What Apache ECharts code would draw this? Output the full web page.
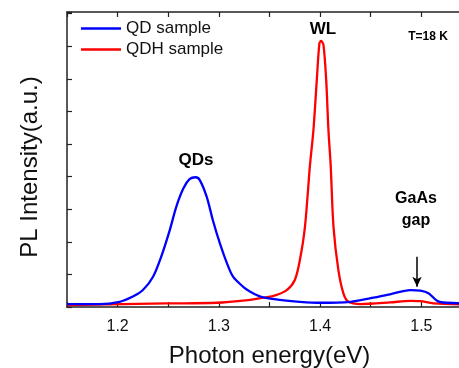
<!DOCTYPE html>
<html>
<head>
<meta charset="utf-8">
<script src="https://cdn.jsdelivr.net/npm/echarts@6/dist/echarts.min.js"></script>
<style>
  html, body { margin: 0; padding: 0; background: #fff; }
  #chart { width: 459px; height: 368px; }
</style>
</head>
<body>
<div id="chart"></div>
<script>
// QD sample (blue) — photon energy (eV) / PL intensity (a.u.)
const qdEnergy = [1.15, 1.182, 1.202, 1.215, 1.225, 1.235, 1.243, 1.2515, 1.258, 1.265, 1.271, 1.277, 1.281, 1.288, 1.294, 1.301, 1.308, 1.314, 1.324, 1.331, 1.341, 1.36, 1.38, 1.40, 1.43, 1.45, 1.469, 1.489, 1.499, 1.507, 1.516, 1.525, 1.55]
const qdIntensity = [0.09, 0.09, 0.16, 0.32, 0.52, 0.93, 1.54, 2.36, 3.08, 3.64, 3.92, 3.98, 3.90, 3.38, 2.67, 1.95, 1.34, 0.93, 0.62, 0.47, 0.32, 0.22, 0.16, 0.13, 0.16, 0.27, 0.39, 0.52, 0.50, 0.42, 0.18, 0.13, 0.11]

// QDH sample (red)
const qdhEnergy = [1.15, 1.248, 1.298, 1.331, 1.341, 1.354, 1.367, 1.375, 1.380, 1.385, 1.390, 1.3934, 1.3967, 1.3993, 1.401, 1.4033, 1.406, 1.4082, 1.4104, 1.4132, 1.418, 1.423, 1.428, 1.44, 1.469, 1.489, 1.499, 1.512, 1.55]
const qdhIntensity = [0.06, 0.11, 0.13, 0.22, 0.27, 0.34, 0.52, 0.83, 1.44, 2.46, 4.36, 5.43, 6.96, 8.09, 8.16, 8.04, 6.96, 5.43, 4.36, 2.46, 1.14, 0.42, 0.16, 0.09, 0.14, 0.19, 0.18, 0.11, 0.08]

const seriesNames = ['QD sample', 'QDH sample']
const xTickLabels = ['1.2', '1.3', '1.4', '1.5']

// GaAs gap arrow (data coords)
const arrowX = 1.4957
const arrowY = [1.54, 0.62]

const chart = echarts.init(document.getElementById('chart'))

const font = '"Liberation Sans", Arial, sans-serif'
const axisColor = '#222'

const xAxisBase = {
  type: 'value',
  min: 1.15,
  max: 1.55,
  interval: 0.05,
  axisLine: { onZero: false, lineStyle: { color: axisColor, width: 1.5 } },
  axisTick: { inside: true, length: 5, lineStyle: { color: axisColor, width: 1.2 } },
  splitLine: { show: false }
}
const yAxisBase = {
  type: 'value',
  min: 0,
  max: 9.05,
  interval: 1,
  axisLine: { show: true, onZero: false, lineStyle: { color: axisColor, width: 1.5 } },
  axisTick: { show: true, inside: true, length: 5, lineStyle: { color: axisColor, width: 1.2 } },
  axisLabel: { show: false },
  splitLine: { show: false }
}

const option = {
  animation: false,
  backgroundColor: '#fff',
  textStyle: { fontFamily: font },
  // plot box runs past the right edge of the picture (1.55 sits off-canvas)
  grid: { left: 67, top: 12, height: 295, width: 405, outerBoundsMode: 'none', containLabel: false },
  legend: {
    data: seriesNames,
    orient: 'vertical',
    left: 81,
    top: 20,
    padding: 0,
    itemGap: 4,
    itemWidth: 40,
    itemHeight: 2.5,
    icon: 'rect',
    textStyle: { fontSize: 17, color: '#111', fontFamily: font }
  },
  xAxis: [
    Object.assign({}, xAxisBase, {
      position: 'bottom',
      axisLabel: {
        fontSize: 16,
        color: '#111',
        margin: 12,
        formatter: v => {
          const s = v.toFixed(1)
          return Math.round(v * 100) % 10 === 0 && xTickLabels.includes(s) ? s : ''
        }
      },
      name: 'Photon energy(eV)',
      nameLocation: 'middle',
      nameGap: 37,
      nameTextStyle: { fontSize: 24, color: '#111', fontFamily: font }
    }),
    Object.assign({}, xAxisBase, { position: 'top', axisLabel: { show: false } })
  ],
  yAxis: [
    Object.assign({}, yAxisBase, {
      position: 'left',
      name: 'PL Intensity(a.u.)',
      nameLocation: 'middle',
      nameGap: 25,
      nameTextStyle: { fontSize: 24, color: '#111', fontFamily: font, padding: [0, 15, 0, 0] }
    }),
    Object.assign({}, yAxisBase, { position: 'right' })
  ],
  series: [
    {
      name: seriesNames[0],
      type: 'line',
      smooth: 0.3,
      symbol: 'none',
      data: qdEnergy.map((e, i) => [e, qdIntensity[i]]),
      lineStyle: { color: '#0000ff', width: 2.3 },
      itemStyle: { color: '#0000ff' },
      z: 3,
      markLine: {
        silent: true,
        symbol: ['none', 'arrow'],
        symbolSize: [7, 10],
        label: { show: false },
        lineStyle: { color: '#000', width: 1.5, type: 'solid' },
        data: [[{ coord: [arrowX, arrowY[0]] }, { coord: [arrowX, arrowY[1]] }]]
      }
    },
    {
      name: seriesNames[1],
      type: 'line',
      smooth: 0.3,
      symbol: 'none',
      data: qdhEnergy.map((e, i) => [e, qdhIntensity[i]]),
      lineStyle: { color: '#ff0000', width: 2.3 },
      itemStyle: { color: '#ff0000' },
      z: 2
    }
  ],
  graphic: [
    { type: 'text', x: 196, y: 160, style: { text: 'QDs', font: 'bold 17px ' + font, fill: '#000', align: 'center', verticalAlign: 'middle' } },
    { type: 'text', x: 323, y: 29, style: { text: 'WL', font: 'bold 17px ' + font, fill: '#000', align: 'center', verticalAlign: 'middle' } },
    { type: 'text', x: 428, y: 37, style: { text: 'T=18 K', font: 'bold 12px ' + font, fill: '#000', align: 'center', verticalAlign: 'middle' } },
    { type: 'text', x: 416, y: 199, style: { text: 'GaAs', font: 'bold 16px ' + font, fill: '#000', align: 'center', verticalAlign: 'middle' } },
    { type: 'text', x: 416, y: 221, style: { text: 'gap', font: 'bold 16px ' + font, fill: '#000', align: 'center', verticalAlign: 'middle' } }
  ]
}

chart.setOption(option)
</script>
</body>
</html>
